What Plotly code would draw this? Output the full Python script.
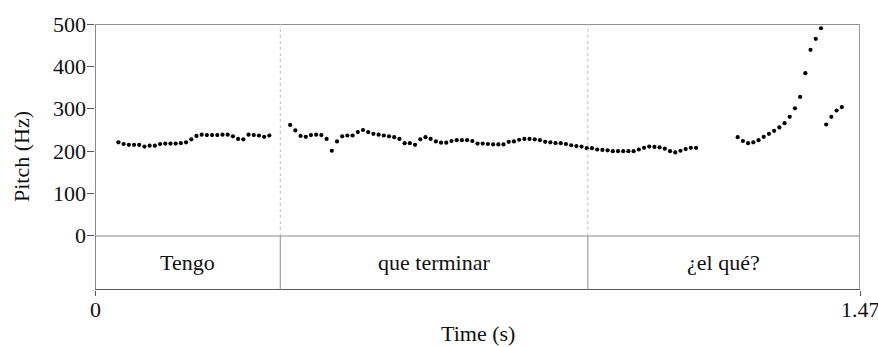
import plotly.graph_objects as go

# Pitch track frames (time in s, F0 in Hz), grouped by voiced stretch
t_seg1 = [0.045, 0.055, 0.065, 0.075, 0.085, 0.095, 0.105, 0.115, 0.125, 0.135,
          0.145, 0.155, 0.165, 0.175, 0.185, 0.195, 0.205, 0.215, 0.225, 0.235,
          0.245, 0.255, 0.265, 0.275, 0.285, 0.295, 0.305, 0.315, 0.325, 0.335]
f0_seg1 = [221, 217, 215, 215, 215, 211, 213, 213, 217, 218,
           218, 218, 219, 221, 228, 236, 239, 238, 238, 238,
           239, 239, 235, 229, 228, 239, 238, 237, 234, 237]

t_seg2 = [0.375, 0.385, 0.395, 0.405, 0.415, 0.425, 0.435, 0.445, 0.455, 0.465,
          0.475, 0.485, 0.495, 0.505, 0.515, 0.525, 0.535, 0.545, 0.555, 0.565,
          0.575, 0.585, 0.595, 0.605, 0.615, 0.625, 0.635, 0.645, 0.655, 0.665,
          0.675, 0.685, 0.695, 0.705, 0.715, 0.725, 0.735, 0.745, 0.755, 0.765,
          0.775, 0.785, 0.795, 0.805, 0.815, 0.825, 0.835, 0.845, 0.855, 0.865,
          0.875, 0.885, 0.895, 0.905, 0.915, 0.925, 0.935, 0.945, 0.955, 0.965,
          0.975, 0.985, 0.995, 1.005, 1.015, 1.025, 1.035, 1.045, 1.055, 1.065,
          1.075, 1.085, 1.095, 1.105, 1.115, 1.125, 1.135, 1.145, 1.155]
f0_seg2 = [262, 249, 236, 234, 238, 239, 238, 229, 201, 223,
           235, 237, 237, 245, 250, 245, 241, 239, 237, 235,
           233, 229, 219, 219, 215, 228, 233, 229, 223, 220,
           220, 224, 226, 226, 226, 224, 218, 218, 217, 216,
           216, 216, 222, 223, 227, 229, 229, 228, 226, 222,
           221, 219, 219, 217, 214, 212, 211, 207, 207, 204,
           203, 202, 200, 200, 200, 200, 200, 204, 208, 211,
           210, 209, 206, 200, 197, 201, 205, 208, 208]

t_seg3 = [1.235, 1.245, 1.255, 1.265, 1.275, 1.285, 1.295, 1.305, 1.315, 1.325,
          1.335, 1.345, 1.355, 1.365, 1.375, 1.385, 1.395,
          1.405, 1.415, 1.425, 1.435]
f0_seg3 = [233, 224, 219, 221, 226, 234, 241, 248, 256, 266,
           281, 301, 328, 384, 439, 465, 490,
           263, 281, 296, 304]

# Word tier: interval boundaries (s) and labels
boundaries = [0.0, 0.356, 0.947, 1.47]
words = ["Tengo", "que terminar", "¿el qué?"]

# Axis settings
T_END = 1.47
F0_MAX = 500
TIER_DEPTH = -127.4  # tier band drawn below 0 Hz
x_ticks = [0, 1.47]
x_tick_text = ["0", "1.47"]
y_ticks = [0, 100, 200, 300, 400, 500]

FONT = "Liberation Serif"
FSIZE = 22
TXT = "#111111"

fig = go.Figure()
for t, f in [(t_seg1, f0_seg1), (t_seg2, f0_seg2), (t_seg3, f0_seg3)]:
    fig.add_trace(go.Scatter(
        x=t, y=f, mode="markers",
        marker=dict(color="black", size=4.2, line=dict(width=0)),
        showlegend=False, hoverinfo="x+y",
    ))

shapes = [
    # frame
    dict(type="line", x0=0, x1=T_END, y0=F0_MAX, y1=F0_MAX, line=dict(color="#6a6a6a", width=1.5)),
    dict(type="line", x0=T_END, x1=T_END, y0=TIER_DEPTH, y1=F0_MAX, line=dict(color="#9a9a9a", width=2)),
    dict(type="line", x0=0, x1=0, y0=TIER_DEPTH, y1=F0_MAX, line=dict(color="#8a8a8a", width=2)),
    dict(type="line", x0=0, x1=T_END, y0=TIER_DEPTH, y1=TIER_DEPTH, line=dict(color="#5a5a5a", width=2)),
    # 0 Hz line / tier top
    dict(type="line", x0=0, x1=T_END, y0=0, y1=0, line=dict(color="#8a8a8a", width=1)),
]
for b in boundaries[1:-1]:
    shapes.append(dict(type="line", x0=b, x1=b, y0=0, y1=F0_MAX,
                       line=dict(color="#bdbdbd", width=1, dash="dot")))
    shapes.append(dict(type="line", x0=b, x1=b, y0=TIER_DEPTH, y1=0,
                       line=dict(color="#8a8a8a", width=1)))
for s in shapes:
    s.update(xref="x", yref="y", layer="above")

font = dict(family=FONT, size=FSIZE, color=TXT)
annotations = []
for i, w in enumerate(words):
    annotations.append(dict(
        x=(boundaries[i] + boundaries[i + 1]) / 2, y=TIER_DEPTH / 2,
        xref="x", yref="y", text=w, showarrow=False, font=font,
    ))
# tick labels placed next to the tick marks
for xv, xt in zip(x_ticks, x_tick_text):
    annotations.append(dict(
        x=xv, y=0, xref="x", yref="paper", yanchor="middle", yshift=-19,
        text=xt, showarrow=False, font=font,
    ))
for yv in y_ticks:
    annotations.append(dict(
        x=0, y=yv, xref="paper", yref="y", xanchor="right", xshift=-7,
        text=str(yv), showarrow=False, font=font,
    ))
annotations.append(dict(
    x=0.5, y=-0.162, xref="paper", yref="paper", yanchor="middle",
    text="Time (s)", showarrow=False, font=font,
))
annotations.append(dict(
    x=0, y=0.5, xref="paper", yref="paper", xanchor="center", xshift=-74,
    textangle=-90, text="Pitch (Hz)", showarrow=False, font=font,
))

fig.update_layout(
    width=878, height=347,
    margin=dict(l=95, r=18, t=24, b=57, autoexpand=False),
    paper_bgcolor="white", plot_bgcolor="white",
    shapes=shapes, annotations=annotations,
    xaxis=dict(
        range=[0, T_END], tickvals=x_ticks, showticklabels=False,
        ticks="outside", ticklen=5, tickwidth=1, tickcolor="#555",
        showgrid=False, zeroline=False, showline=False, automargin=False,
    ),
    yaxis=dict(
        range=[TIER_DEPTH, F0_MAX], tickvals=y_ticks, showticklabels=False,
        ticks="outside", ticklen=7, tickwidth=1, tickcolor="#555",
        showgrid=False, zeroline=False, showline=False, automargin=False,
    ),
)

fig.write_html("out.html")
